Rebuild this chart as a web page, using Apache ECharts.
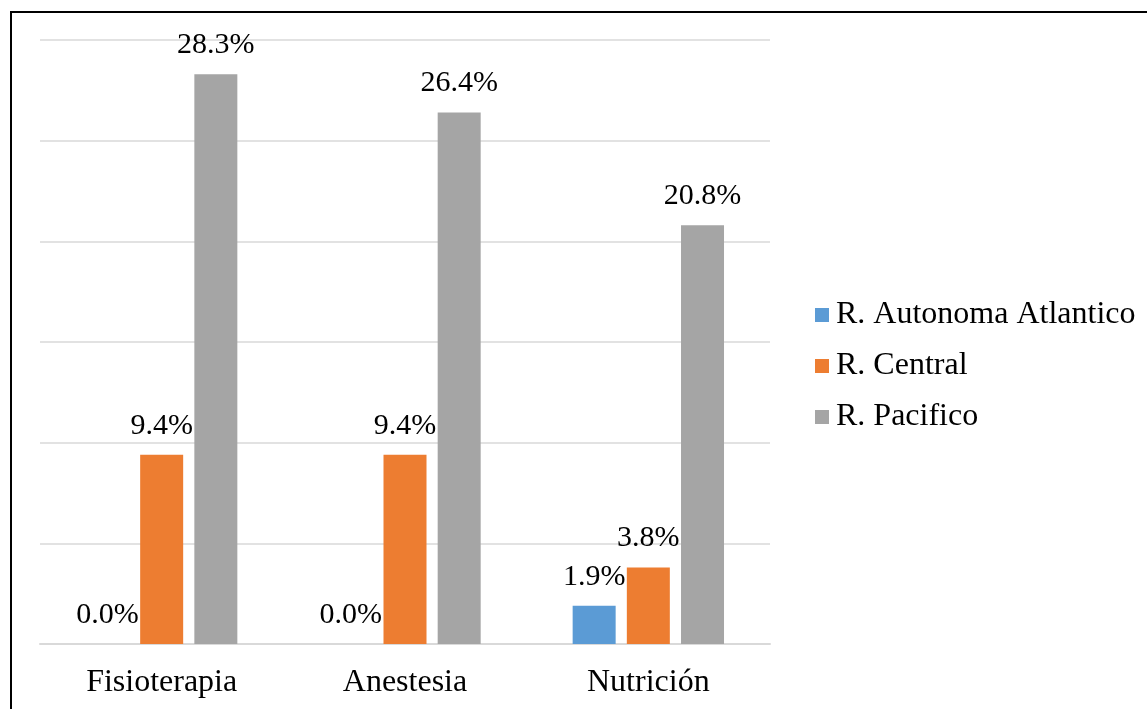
<!DOCTYPE html>
<html>
<head>
<meta charset="utf-8">
<script src="https://cdn.jsdelivr.net/npm/echarts@6/dist/echarts.min.js"></script>
<style>
  html, body { margin: 0; padding: 0; background: #fff; overflow: hidden; }
  #chart { width: 1147px; height: 709px; }
  .frame {
    position: absolute; left: 10px; top: 11px; width: 1300px; height: 900px;
    border-left: 2px solid #000; border-top: 2px solid #000; pointer-events: none;
  }
</style>
</head>
<body>
<div id="chart"></div>
<div class="frame"></div>
<script>
const categories = ['Fisioterapia', 'Anestesia', 'Nutrición']
const atlantico = [0.0, 0.0, 1.9]
const central = [9.4, 9.4, 3.8]
const pacifico = [28.3, 26.4, 20.8]

const font = 'Liberation Serif, Times New Roman, serif'

function makeSeries (name, data, color) {
  return {
    name,
    type: 'bar',
    data,
    barWidth: 43,
    barGap: '26%',
    itemStyle: { color },
    label: {
      show: true,
      position: 'top',
      distance: 14,
      color: '#000',
      fontFamily: font,
      fontSize: 30,
      lineHeight: 30,
      formatter: (p) => p.value.toFixed(1) + '%'
    }
  }
}

const option = {
  backgroundColor: '#fff',
  animation: false,
  grid: { left: 40, right: 377, top: 40, bottom: 65 },
  legend: {
    orient: 'vertical',
    left: 810,
    top: 294,
    itemWidth: 14,
    itemHeight: 14,
    itemGap: 19,
    icon: 'rect',
    textStyle: { color: '#000', fontFamily: font, fontSize: 32, lineHeight: 32, padding: [0, 0, 0, 2] },
    data: ['R. Autonoma Atlantico', 'R. Central', 'R. Pacifico']
  },
  xAxis: {
    type: 'category',
    data: categories,
    axisLine: { lineStyle: { color: '#d9d9d9', width: 2 } },
    axisTick: { show: false },
    axisLabel: { color: '#000', fontFamily: font, fontSize: 32, margin: 23 }
  },
  yAxis: {
    type: 'value',
    min: 0,
    max: 30,
    interval: 5,
    axisLabel: { show: false },
    axisLine: { show: false },
    axisTick: { show: false },
    splitLine: { lineStyle: { color: '#d9d9d9', width: 1.5 } }
  },
  series: [
    makeSeries('R. Autonoma Atlantico', atlantico, '#5b9bd5'),
    makeSeries('R. Central', central, '#ed7d31'),
    makeSeries('R. Pacifico', pacifico, '#a5a5a5')
  ]
}

const myChart = echarts.init(document.getElementById('chart'))
myChart.setOption(option)
</script>
</body>
</html>
